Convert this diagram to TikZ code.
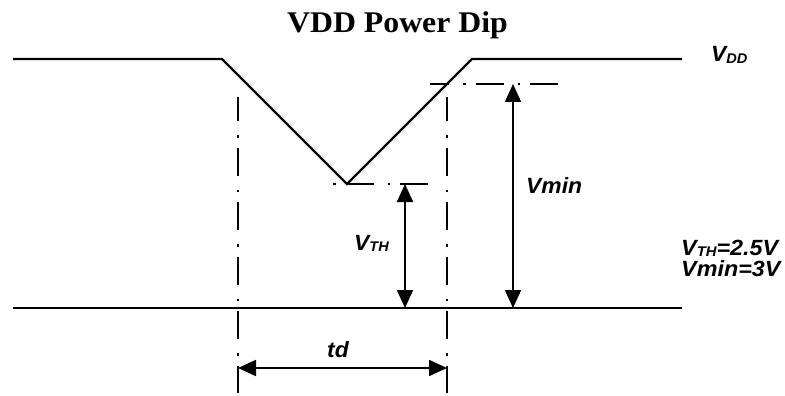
\documentclass[tikz,border=0pt]{standalone}
\usepackage{fontspec}
\setmainfont{Liberation Serif}
\setsansfont{Liberation Sans}
\usetikzlibrary{arrows.meta}
\newcommand{\lowsub}[1]{\raisebox{-1.3pt}{\fontsize{14}{14}\selectfont #1}}

\begin{document}
\begin{tikzpicture}[
    x=1pt, y=-1pt,
    title/.style={font=\bfseries\fontsize{30}{30}\selectfont, xscale=1.06, inner sep=0pt, anchor=base},
    lbl/.style={font=\sffamily\bfseries\itshape\fontsize{22}{22}\selectfont, xscale=1.04, inner sep=0pt, anchor=base west},
    spec/.style={lbl, font=\sffamily\bfseries\itshape\fontsize{22}{22}\selectfont, xscale=1.02, text height=16pt, text depth=1pt},
    wave/.style={line width=2.3pt, line join=miter},
    guide/.style={line width=2pt, dash pattern=on 28pt off 14pt on 2.5pt off 10pt},
    dim/.style={{Triangle[length=18pt,width=16pt]}-{Triangle[length=18pt,width=16pt]}, line width=1.8pt},
  ]
    \useasboundingbox (0,0) rectangle (785,396);

    \node[title] (head) at (397.5,33) {VDD Power Dip};

    % supply waveform
    \coordinate (top0) at (13,59);
    \coordinate (fall) at (222,59);
    \coordinate (dip) at (347,184);
    \coordinate (rise) at (472,59);
    \coordinate (top1) at (682,59);
    \coordinate (gnd0) at (13,308);
    \coordinate (gnd1) at (682,308);

    \draw[wave] (top0) -- (fall) -- (dip) -- (rise) -- (top1);
    \draw[wave] (gnd0) -- (gnd1);

    % guide lines
    \coordinate (gl0) at (238,97);
    \coordinate (gl1) at (238,393);
    \coordinate (gr0) at (447,97);
    \coordinate (gr1) at (447,393);
    \coordinate (hm0) at (430,84);
    \coordinate (hm1) at (560,84);
    \coordinate (ht0) at (333,184);
    \coordinate (ht1) at (432,184);

    \draw[guide, dash phase=4pt] (gl0) -- (gl1);
    \draw[guide, dash phase=4pt] (gr0) -- (gr1);
    \draw[guide, dash phase=9pt] (hm0) -- (hm1);
    \draw[guide, dash phase=42pt] (ht0) -- (ht1);

    % dimension arrows
    \coordinate (thT) at (405,184);
    \coordinate (thB) at (405,308);
    \coordinate (vmT) at (513,84);
    \coordinate (vmB) at (513,308);
    \coordinate (tdL) at (238,368);
    \coordinate (tdR) at (447,368);

    \draw[dim] (thT) -- (thB);
    \draw[dim] (vmT) -- (vmB);
    \draw[dim] (tdL) -- (tdR);

    \node[lbl] (vdd) at (711,62) {V\lowsub{DD}};
    \node[lbl] (vminlbl) at (526,193) {Vmin};
    \node[lbl] (vthlbl) at (354,250) {V\lowsub{TH}};
    \node[lbl] (tdlbl) at (327,357) {td};
    \node[spec] (spec1) at (681,255) {V\lowsub{TH}=2.5V};
    \node[spec] (spec2) at (681,276) {Vmin=3V};
  \end{tikzpicture}
\end{document}
